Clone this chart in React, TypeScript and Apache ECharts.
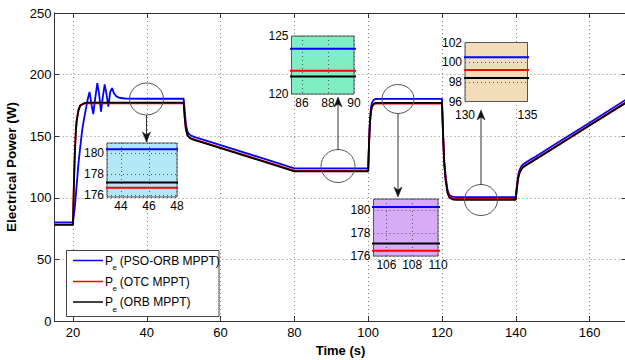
import React, { useEffect, useRef } from "react";
import * as echarts from "echarts";

// ---- Data ----
const timeRef = [15, 20, 20.25, 20.5, 20.75, 21, 21.5, 22, 23, 24, 30, 40, 50, 50.3, 50.6, 51, 51.5, 52, 53, 55, 60, 70, 80, 90, 100, 100.25, 100.5, 100.75, 101, 101.5, 102, 103, 110, 120, 120.3, 120.6, 121, 121.5, 122, 123, 124, 130, 140, 140.3, 140.7, 141, 141.5, 142, 143, 145, 150, 160, 170];
const orbPower = [78, 78, 110, 135, 152, 162, 171, 175, 176.8, 177.2, 177.2, 177.2, 177.2, 165, 156, 151, 149, 148, 146.8, 145, 140.3, 130.9, 121.5, 121.5, 121.5, 145, 162, 170, 174, 176.3, 177, 177.1, 177.1, 177.1, 150, 128, 114, 104, 100, 98.6, 98.4, 98.4, 98.4, 108, 116.5, 120, 123, 124.8, 126.8, 130.4, 139.8, 158.6, 177.4];
const otcPower = [78.5, 78.5, 111, 136, 153, 163, 171.5, 175, 176.4, 176.7, 176.7, 176.7, 176.7, 164.5, 155.8, 151, 149.2, 148.3, 147.2, 145.4, 140.7, 131.4, 122, 122, 122, 145, 161.5, 169.5, 173.5, 175.8, 176.4, 176.45, 176.45, 176.45, 150, 128.5, 114.5, 104.8, 100.8, 99.4, 99.2, 99.2, 99.2, 108.6, 117, 120.5, 123.5, 125.2, 127.2, 130.8, 140.2, 159, 177.8];

const timePso = [15, 20, 20.5, 21, 21.5, 22, 22.5, 23, 23.5, 24, 24.5, 25, 25.5, 26, 26.6, 27.1, 27.6, 28.1, 28.6, 29.1, 29.6, 30.1, 30.6, 31.1, 31.7, 32.5, 34, 40, 50, 50.3, 50.6, 51, 51.5, 52, 53, 55, 60, 70, 80, 90, 100, 100.25, 100.5, 100.75, 101, 101.5, 102, 103, 110, 120, 120.3, 120.6, 121, 121.5, 122, 123, 124, 130, 140, 140.3, 140.7, 141, 141.5, 142, 143, 145, 150, 160, 170];
const psoOrbPower = [80, 80, 92, 110, 128, 142, 155, 164, 172, 180, 186, 176, 168, 180, 193, 184, 170, 182, 192, 184, 174, 186, 189, 185, 182.5, 181.2, 180.6, 180.4, 180.4, 170, 160, 154, 151.5, 150.5, 149.3, 147.5, 142.8, 133.4, 123.9, 123.9, 123.9, 148, 165, 173, 177, 179.5, 180.2, 180.3, 180.3, 180.3, 153, 131, 117, 106.5, 102.3, 100.7, 100.5, 100.5, 100.5, 110.5, 119, 122.5, 125.5, 127.2, 129.2, 132.8, 142.2, 161, 180];

const legendSuffixes = [" (PSO-ORB MPPT)", " (OTC MPPT)", " (ORB MPPT)"];
const seriesNames = ["Pe (PSO-ORB MPPT)", "Pe (OTC MPPT)", "Pe (ORB MPPT)"];
const seriesColors = ["#0000ff", "#ff0000", "#000000"];

const xRange = [15, 170];
const yRange = [0, 250];
const yInterval = 50;

// zoomed windows: [xmin, xmax], [ymin, ymax]
const insetX = [[43, 48], [85.2, 90], [105, 110], [130, 135]];
const insetY = [[175.8, 181], [120, 125], [176, 181], [96, 102]];

const FONT = "Arial, 'Liberation Sans', Helvetica, sans-serif";

function pairs(t: number[], v: number[]) {
  return t.map((x, i) => [x, v[i]]);
}

export default function App() {
  const ref = useRef<HTMLDivElement>(null);
  useEffect(() => {
    document.body.style.margin = "0";
    const chart = echarts.init(ref.current!, null, { renderer: "svg" });

    const insetBoxes = [
      { left: 107, top: 143, width: 70, height: 54, bg: "#b1e7f7" },
      { left: 291.5, top: 36, width: 62.5, height: 58, bg: "#7eefc3" },
      { left: 373.5, top: 199, width: 64.5, height: 57, bg: "#d7abf5" },
      { left: 465, top: 42.5, width: 62.5, height: 59, bg: "#f3dcb8" },
    ];
    const insetXInterval: (number | undefined)[] = [undefined, undefined, undefined, 5];
    const insetYInterval: (number | undefined)[] = [undefined, 5, undefined, 2];
    const insetXMargin = [3, 3, 3, 7];

    const dataSets = [pairs(timePso, psoOrbPower), pairs(timeRef, otcPower), pairs(timeRef, orbPower)];

    const grids: any[] = [
      { left: 54.5, top: 13, width: 572, height: 308, outerBoundsMode: "none", containLabel: false },
      ...insetBoxes.map((b) => ({
        left: b.left, top: b.top, width: b.width, height: b.height,
        show: true, backgroundColor: b.bg, borderColor: "#555", borderWidth: 1,
        z: 5, outerBoundsMode: "none", containLabel: false,
      })),
    ];

    const dotted = { type: [1, 3] as any, color: "#808080", width: 1 };
    const insetLabel = { fontSize: 12, color: "#000", fontFamily: FONT };

    const xAxes: any[] = [
      {
        gridIndex: 0, type: "value", min: xRange[0], max: xRange[1], splitNumber: 8,
        name: "Time (s)", nameLocation: "middle", nameGap: 21,
        nameTextStyle: { fontSize: 13, fontWeight: "bold", color: "#000", fontFamily: FONT },
        axisLine: { show: true, onZero: false, lineStyle: { color: "#333", width: 1 } },
        axisTick: { show: true, inside: true, length: 5, lineStyle: { color: "#333" } },
        axisLabel: { fontSize: 13, color: "#000", fontFamily: FONT, margin: 5, showMinLabel: false, showMaxLabel: false },
        splitLine: { show: true, lineStyle: dotted },
      },
      ...insetX.map((r, i) => ({
        gridIndex: i + 1, type: "value", min: r[0], max: r[1],
        splitNumber: 3, interval: insetXInterval[i], z: 6,
        axisLine: { show: false }, axisTick: { show: false },
        axisLabel: { ...insetLabel, margin: insetXMargin[i], showMinLabel: insetXInterval[i] !== undefined },
        splitLine: { show: true, lineStyle: { type: [1, 3] as any, color: "#556", width: 1 } },
      })),
      {
        gridIndex: 0, type: "value", position: "top", min: xRange[0], max: xRange[1], splitNumber: 8,
        axisLine: { show: true, onZero: false, lineStyle: { color: "#333", width: 1 } },
        axisTick: { show: true, inside: true, length: 5, lineStyle: { color: "#333" } },
        axisLabel: { show: false }, splitLine: { show: false },
      },
    ];

    const yAxes: any[] = [
      {
        gridIndex: 0, type: "value", min: yRange[0], max: yRange[1], interval: yInterval,
        name: "Electrical Power (W)", nameLocation: "middle", nameGap: 34,
        nameTextStyle: { fontSize: 13.5, fontWeight: "bold", color: "#000", fontFamily: FONT },
        axisLine: { show: true, onZero: false, lineStyle: { color: "#333", width: 1 } },
        axisTick: { show: true, inside: true, length: 5, lineStyle: { color: "#333" } },
        axisLabel: { fontSize: 13, color: "#000", fontFamily: FONT, margin: 3 },
        splitLine: { show: true, lineStyle: dotted },
      },
      ...insetY.map((r, i) => ({
        gridIndex: i + 1, type: "value", min: r[0], max: r[1],
        splitNumber: 3, interval: insetYInterval[i], z: 6,
        axisLine: { show: false }, axisTick: { show: false },
        axisLabel: {
          ...insetLabel, margin: 3,
          showMinLabel: i !== 0,
          showMaxLabel: insetYInterval[i] !== undefined,
        },
        splitLine: { show: true, lineStyle: { type: [1, 3] as any, color: "#556", width: 1 } },
      })),
      {
        gridIndex: 0, type: "value", position: "right", min: yRange[0], max: yRange[1], interval: yInterval,
        axisLine: { show: true, onZero: false, lineStyle: { color: "#333", width: 1 } },
        axisTick: { show: true, inside: true, length: 5, lineStyle: { color: "#333" } },
        axisLabel: { show: false }, splitLine: { show: false },
      },
    ];

    const series: any[] = [];
    for (let g = 0; g < 5; g++) {
      dataSets.forEach((d, k) => {
        series.push({
          type: "line",
          name: seriesNames[k],
          xAxisIndex: g,
          yAxisIndex: g,
          data: d,
          symbol: "none",
          clip: true,
          z: g === 0 ? 2 : 7,
          lineStyle: { color: seriesColors[k], width: g === 0 ? 1.8 : 2 },
          itemStyle: { color: seriesColors[k] },
        });
      });
    }

    // decorations: legend box, circles, arrows
    const graphic: any[] = [];
    graphic.push({
      type: "rect", z: 100,
      shape: { x: 66.5, y: 250.5, width: 152.5, height: 66 },
      style: { fill: "#ffffff", stroke: "#444", lineWidth: 1 },
    });
    const legendY = [260.5, 281.5, 302];
    legendSuffixes.forEach((s, k) => {
      const y = legendY[k];
      graphic.push({ type: "line", z: 101, shape: { x1: 73, y1: y, x2: 103, y2: y }, style: { stroke: seriesColors[k], lineWidth: 1.5 } });
      graphic.push({ type: "text", z: 101, x: 105, y: y, style: { text: "P", fontSize: 12, fontFamily: FONT, fill: "#000", textAlign: "left", textVerticalAlign: "middle", align: "left", verticalAlign: "middle" } });
      graphic.push({ type: "text", z: 101, x: 112.5, y: y + 7, style: { text: "e", fontSize: 8, fontFamily: FONT, fill: "#000", textAlign: "left", textVerticalAlign: "middle", align: "left", verticalAlign: "middle" } });
      graphic.push({ type: "text", z: 101, x: 116.5, y: y, style: { text: s, fontSize: 12, fontFamily: FONT, fill: "#000", textAlign: "left", textVerticalAlign: "middle", align: "left", verticalAlign: "middle" } });
    });

    const circles = [
      [146.5, 99, 17, 16],
      [338, 166, 17, 16.5],
      [398, 99, 16, 14.5],
      [481, 200, 16.5, 15.5],
    ];
    circles.forEach((c) => {
      graphic.push({ type: "ellipse", z: 50, shape: { cx: c[0], cy: c[1], rx: c[2], ry: c[3] }, style: { fill: "none", stroke: "#555", lineWidth: 1 } });
    });

    const arrows = [
      { x: 146.5, from: 115, tip: 142 },
      { x: 338, from: 149.5, tip: 97 },
      { x: 398, from: 113.5, tip: 197 },
      { x: 481, from: 184.5, tip: 110 },
    ];
    arrows.forEach((a) => {
      const dir = a.tip > a.from ? 1 : -1;
      graphic.push({ type: "line", z: 50, shape: { x1: a.x, y1: a.from, x2: a.x, y2: a.tip - dir * 7 }, style: { stroke: "#333", lineWidth: 1 } });
      graphic.push({
        type: "polygon", z: 51,
        shape: { points: [[a.x, a.tip], [a.x - 4, a.tip - dir * 10], [a.x, a.tip - dir * 7], [a.x + 4, a.tip - dir * 10]] },
        style: { fill: "#111", stroke: "#111", lineWidth: 0.5 },
      });
    });

    chart.setOption({
      animation: false,
      backgroundColor: "#ffffff",
      grid: grids,
      xAxis: xAxes,
      yAxis: yAxes,
      series,
      graphic,
    });
    return () => chart.dispose();
  }, []);
  return <div ref={ref} style={{ width: 625, height: 360 }} />;
}
